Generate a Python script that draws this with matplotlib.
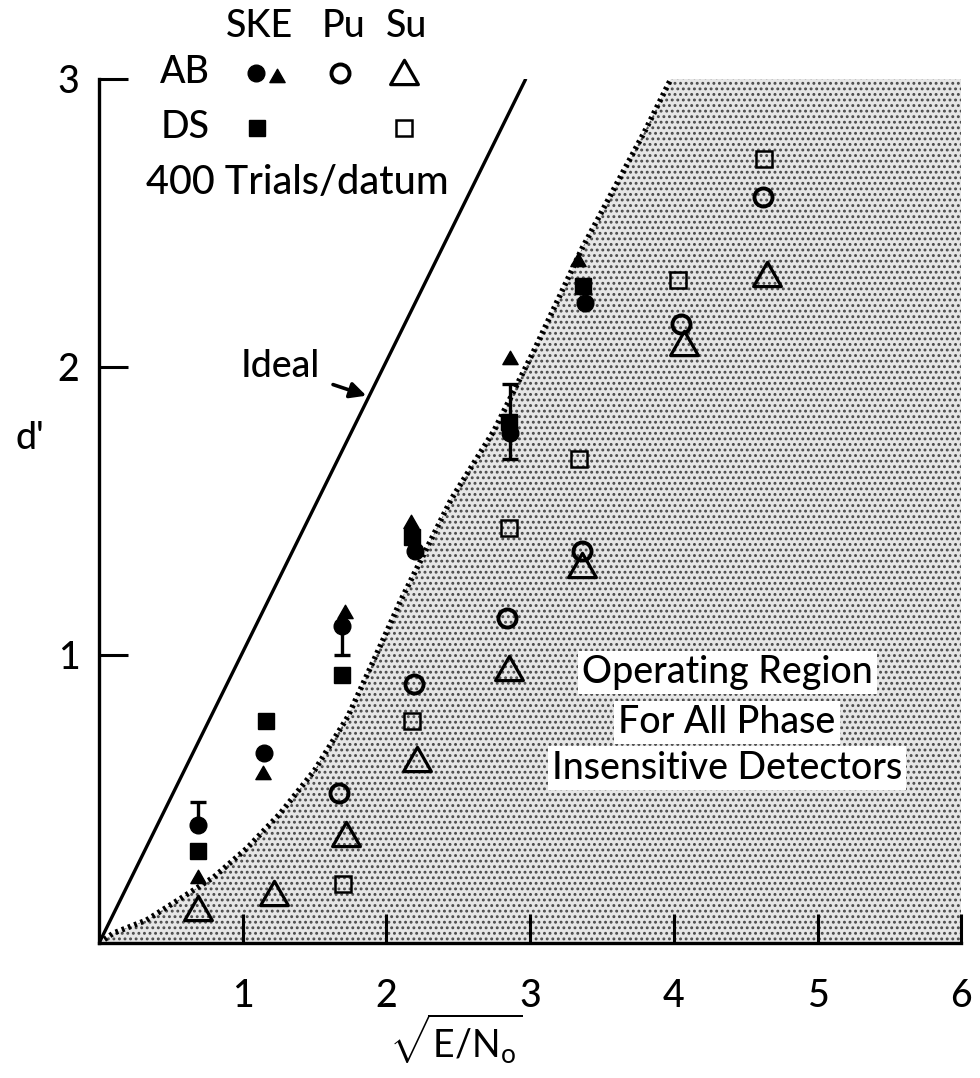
import matplotlib
matplotlib.use("Agg")
import matplotlib.pyplot as plt
import numpy as np
from matplotlib.path import Path

plt.rcParams['font.family'] = ['Lato', 'DejaVu Sans']
plt.rcParams['mathtext.fontset'] = 'custom'
plt.rcParams['mathtext.rm'] = 'Lato'
plt.rcParams['mathtext.default'] = 'regular'
plt.rcParams['hatch.linewidth'] = 1.3
plt.rcParams['hatch.color'] = '#4a4a4a'

# ---------------- data ----------------
x_ticks = [1, 2, 3, 4, 5, 6]
y_ticks = [1, 2, 3]

ideal_x = [0.0, 2.97]
ideal_y = [0.0, 3.0]

# boundary of the operating region (dotted curve)
bound_x = [0.0, 0.10, 0.33, 0.57, 0.80, 1.03, 1.26, 1.50, 1.73, 1.91, 2.10, 2.45, 2.75, 3.03, 3.36, 3.80, 3.98]
bound_y = [0.0, 0.035, 0.08, 0.156, 0.23, 0.33, 0.45, 0.60, 0.785, 0.98, 1.19, 1.54, 1.78, 2.06, 2.41, 2.82, 3.0]

ske_ab_circ_x = [0.69, 1.15, 1.69, 2.20, 2.86, 3.38]
ske_ab_circ_y = [0.41, 0.66, 1.10, 1.36, 1.77, 2.22]

ske_ab_tri_x = [0.69, 1.14, 1.71, 2.17, 2.86, 3.33]
ske_ab_tri_y = [0.23, 0.59, 1.15, 1.46, 2.03, 2.37]

ske_ds_sq_x = [0.69, 1.16, 1.69, 2.18, 2.85, 3.37]
ske_ds_sq_y = [0.32, 0.77, 0.93, 1.41, 1.81, 2.28]

pu_ab_x = [1.67, 2.19, 2.84, 3.36, 4.05, 4.62]
pu_ab_y = [0.52, 0.90, 1.13, 1.36, 2.15, 2.59]

su_ab_x = [0.69, 1.22, 1.72, 2.21, 2.85, 3.36, 4.07, 4.65]
su_ab_y = [0.12, 0.17, 0.375, 0.635, 0.95, 1.31, 2.08, 2.32]

su_ds_x = [1.70, 2.18, 2.85, 3.34, 4.03, 4.63]
su_ds_y = [0.205, 0.77, 1.44, 1.68, 2.30, 2.72]

err_x = [0.69, 1.69, 2.86]
err_lo = [0.41, 1.00, 1.68]
err_hi = [0.49, 1.10, 1.94]

region_lines = ["Operating Region", "For All Phase", "Insensitive Detectors"]

# ---------------- figure ----------------
fig = plt.figure(figsize=(9.8, 10.78), dpi=100)
ax = fig.add_axes([0.101, 0.125, 0.880, 0.802])
ax.set_xlim(0, 6)
ax.set_ylim(0, 3)

# shaded region
poly_x = list(bound_x) + [6.0, 6.0]
poly_y = list(bound_y) + [3.0, 0.0]
ax.fill(poly_x, poly_y, facecolor='#e6e6e6', edgecolor='#4a4a4a', hatch='...', lw=0, zorder=1)

# boundary & ideal lines
ax.plot(bound_x, bound_y, color='black', lw=4.0, ls=(0, (0.5, 0.7)), zorder=3)
ax.plot(ideal_x, ideal_y, color='black', lw=2.4, zorder=3, solid_capstyle='butt')

tri = Path([(-1, -0.8), (1, -0.8), (0, 0.95), (-1, -0.8)],
           [Path.MOVETO, Path.LINETO, Path.LINETO, Path.CLOSEPOLY])

# error bars
err_x_a = np.array(err_x)
lo = np.array(err_lo); hi = np.array(err_hi)
ax.errorbar(err_x_a, (lo + hi) / 2, yerr=(hi - lo) / 2, fmt='none', ecolor='black',
            elinewidth=2.4, capsize=6, capthick=2.4, zorder=4)

ms_kw = dict(ls='none', zorder=5, clip_on=False)
ax.plot(ske_ab_circ_x, ske_ab_circ_y, marker='o', ms=12, color='black', **ms_kw)
ax.plot(ske_ab_tri_x, ske_ab_tri_y, marker=tri, ms=11, color='black', **ms_kw)
ax.plot(ske_ds_sq_x, ske_ds_sq_y, marker='s', ms=12, color='black', **ms_kw)
ax.plot(pu_ab_x, pu_ab_y, marker='o', ms=13, mfc='none', mec='black', mew=2.8, **ms_kw)
ax.plot(su_ab_x, su_ab_y, marker=tri, ms=20, mfc='none', mec='black', mew=2.3, **ms_kw)
ax.plot(su_ds_x, su_ds_y, marker='s', ms=12, mfc='none', mec='black', mew=1.8, **ms_kw)

# legend block (drawn as text and markers above the plot)
fs = 27
tw = 'medium'
ax.text(1.12, 3.18, "SKE", ha='center', va='center', fontsize=fs, fontweight=tw, clip_on=False)
ax.text(1.70, 3.18, "Pu", ha='center', va='center', fontsize=fs, fontweight=tw, clip_on=False)
ax.text(2.14, 3.18, "Su", ha='center', va='center', fontsize=fs, fontweight=tw, clip_on=False)
ax.text(0.60, 3.02, "AB", ha='center', va='center', fontsize=fs, fontweight=tw, clip_on=False)
ax.text(0.60, 2.83, "DS", ha='center', va='center', fontsize=fs, fontweight=tw, clip_on=False)
ax.text(1.38, 2.64, "400 Trials/datum", ha='center', va='center', fontsize=28.5, fontweight=tw, clip_on=False)
ax.plot([1.09], [3.02], marker='o', ms=12, color='black', **ms_kw)
ax.plot([1.24], [3.01], marker=tri, ms=11, color='black', **ms_kw)
ax.plot([1.68], [3.02], marker='o', ms=13, mfc='none', mec='black', mew=2.8, **ms_kw)
ax.plot([2.12], [3.02], marker=tri, ms=20, mfc='none', mec='black', mew=2.3, **ms_kw)
ax.plot([1.10], [2.83], marker='s', ms=12, color='black', **ms_kw)
ax.plot([2.12], [2.83], marker='s', ms=12, mfc='none', mec='black', mew=1.8, **ms_kw)

# Ideal annotation
ax.annotate("Ideal", xy=(1.86, 1.90), xytext=(1.26, 2.0), fontsize=fs, fontweight=tw,
            ha='center', va='center',
            arrowprops=dict(arrowstyle='-|>', color='black', lw=2.6, mutation_scale=24,
                            shrinkA=8, shrinkB=0), zorder=6)

# Operating region text
for txt, yy in zip(region_lines, [0.94, 0.767, 0.608]):
    ax.text(4.37, yy, txt, ha='center', va='center', fontsize=fs, fontweight=tw, zorder=6,
            bbox=dict(facecolor='white', edgecolor='none', pad=3))

# axes styling
for s in ['top', 'right']:
    ax.spines[s].set_visible(False)
for s in ['left', 'bottom']:
    ax.spines[s].set_linewidth(2.4)
    ax.spines[s].set_zorder(7)
ax.set_xticks(x_ticks)
ax.set_yticks(y_ticks)
ax.set_xticklabels([str(v) for v in x_ticks])
ax.set_yticklabels([str(v) for v in y_ticks])
ax.tick_params(axis='both', direction='in', length=21, width=2.2, labelsize=fs)
ax.tick_params(axis='x', pad=26)
ax.tick_params(axis='y', pad=14)
for lab in ax.get_xticklabels() + ax.get_yticklabels():
    lab.set_fontweight(tw)

ax.text(-0.48, 1.75, "d'", ha='center', va='center', fontsize=fs, fontweight=tw, clip_on=False)
ax.text(2.48, -0.33, r'$\sqrt{E/N_o}$', ha='center', va='center', fontsize=fs, clip_on=False)

fig.savefig("out.png", dpi=100)
